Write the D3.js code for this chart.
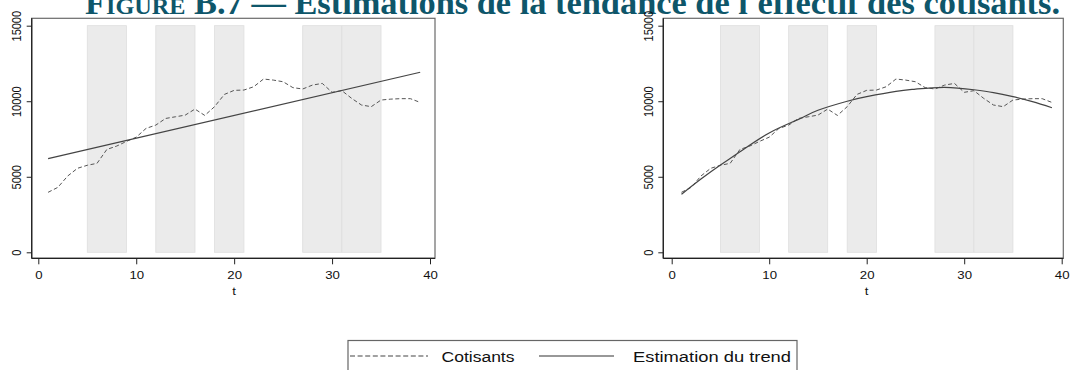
<!DOCTYPE html>
<html><head><meta charset="utf-8">
<script src="https://cdn.jsdelivr.net/npm/d3@7"></script>
<style>
html,body{margin:0;padding:0;background:#fff;}
svg{display:block;}
text{font-family:"Liberation Sans",Arial,sans-serif;}
</style></head>
<body>
<svg id="c" width="1070" height="370"></svg>
<script>
// ---- data ----
const tValues = [1,2,3,4,5,6,7,8,9,10,11,12,13,14,15,16,17,18,19,20,21,22,23,24,25,26,27,28,29,30,31,32,33,34,35,36,37,38,39];
const cotisants = [3970,4300,5050,5560,5760,5890,6810,7030,7340,7620,8200,8420,8860,8970,9080,9480,9060,9640,10450,10720,10740,10960,11470,11400,11290,10900,10810,11070,11180,10590,10700,10190,9750,9640,10080,10140,10170,10170,9920];
const linTrendT = [1, 39];
const linTrendV = [6200, 11920];
const quadTrendT = [1,3,5,7,10,13,15,18,20,23,25,28,31,33,35,37,39];
const quadTrendV = [3840,4850,5780,6650,7900,8800,9400,10000,10300,10650,10800,10920,10760,10570,10300,9970,9570];
const bandStart = [5,12,18,27,31];
const bandEnd = [9,16,21,31,35];
const xTicks = [0,10,20,30,40];
const yTicks = [0,5000,10000,15000];
const titleSmall = "Figure B.7";
const titleMain = "— Estimations de la tendance de l'effectif des cotisants.";
const xTitle = "t";
const legendLabels = ["Cotisants", "Estimation du trend"];

const svg = d3.select("#c");
const SX = 1.2; // horizontal stretch of the reference's small texts

// title (cropped at top in reference)
const title = svg.append("text").attr("x", 85).attr("y", 14)
  .attr("fill", "#0e566a").attr("font-weight", "bold")
  .style("font-family", "'Liberation Serif','DejaVu Serif',serif").style("font-size", "34px")
  .attr("textLength", 975).attr("lengthAdjust", "spacingAndGlyphs");
title.append("tspan").style("font-variant", "small-caps").text(titleSmall);
title.append("tspan").text("   " + titleMain);

function panel(frame, xRange, trendT, trendV) {
  const x = d3.scaleLinear().domain([0, 40]).range(xRange);
  const y = d3.scaleLinear().domain([0, 15000]).range([252.3, 25.7]);
  const g = svg.append("g");
  // bands
  bandStart.forEach((s, i) => {
    g.append("rect").attr("x", x(s)).attr("y", y(15000))
      .attr("width", x(bandEnd[i]) - x(s)).attr("height", y(0) - y(15000))
      .attr("fill", "#ebebeb").attr("stroke", "#dedede").attr("stroke-width", 0.8);
  });
  // frame
  g.append("rect").attr("x", frame[0]).attr("y", 18.3).attr("width", frame[1] - frame[0]).attr("height", 240)
    .attr("fill", "none").attr("stroke", "#6a6a6a").attr("stroke-width", 1.2);
  // axes
  const ya = g.append("g").attr("transform", `translate(${frame[0]},0)`)
    .call(d3.axisLeft(y).tickValues(yTicks).tickSize(5).tickPadding(0).tickFormat(d3.format("d")));
  ya.select(".domain").attr("stroke", "#222").attr("stroke-width", 1.3).attr("d", `M0,18.3V258.3`);
  ya.selectAll(".tick line").attr("stroke", "#222");
  ya.selectAll(".tick text").attr("transform", `translate(-10.5,0) scale(${SX},1) rotate(-90)`)
    .attr("x", 0).attr("y", 0).attr("dy", 0).attr("text-anchor", "middle")
    .attr("font-size", 11).attr("fill", "#111")
    .style("font-family", "'Liberation Sans',Arial,sans-serif");
  const xa = g.append("g").attr("transform", `translate(0,258.3)`)
    .call(d3.axisBottom(x).tickValues(xTicks).tickSize(6).tickPadding(0).tickFormat(d3.format("d")));
  xa.select(".domain").attr("stroke", "#222").attr("stroke-width", 1.3).attr("d", `M${frame[0]},0H${frame[1]}`);
  xa.selectAll(".tick line").attr("stroke", "#222");
  xa.selectAll(".tick text").attr("transform", `translate(0,20.2) scale(${SX},1)`)
    .attr("y", 0).attr("dy", 0).attr("font-size", 11).attr("fill", "#111")
    .style("font-family", "'Liberation Sans',Arial,sans-serif");
  g.append("text").attr("transform", `translate(${x(20)},295) scale(${SX},1)`).attr("text-anchor", "middle")
    .attr("font-size", 11).attr("fill", "#111").text(xTitle);
  // series
  const line = d3.line().x(d => x(d[0])).y(d => y(d[1]));
  g.append("path").datum(tValues.map((t, i) => [t, cotisants[i]]))
    .attr("d", line).attr("fill", "none").attr("stroke", "#555").attr("stroke-width", 1)
    .attr("stroke-dasharray", "4,2.5");
  const tline = d3.line().x(d => x(d[0])).y(d => y(d[1])).curve(d3.curveNatural);
  g.append("path").datum(trendT.map((t, i) => [t, trendV[i]]))
    .attr("d", tline).attr("fill", "none").attr("stroke", "#444").attr("stroke-width", 1.2);
}

panel([31.7, 435], [38.3, 430], linTrendT, linTrendV);
panel([663.3, 1063.3], [671.7, 1061.7], quadTrendT, quadTrendV);

// legend
const lg = svg.append("g");
lg.append("rect").attr("x", 348).attr("y", 340.5).attr("width", 449).attr("height", 40)
  .attr("fill", "#fff").attr("stroke", "#666").attr("stroke-width", 1.2);
lg.append("line").attr("x1", 350).attr("x2", 428).attr("y1", 356).attr("y2", 356)
  .attr("stroke", "#444").attr("stroke-width", 1.2).attr("stroke-dasharray", "5,2.6");
lg.append("text").attr("x", 441.5).attr("y", 361.5).attr("font-size", 15.5).attr("fill", "#111")
  .attr("textLength", 73).attr("lengthAdjust", "spacingAndGlyphs").text(legendLabels[0]);
lg.append("line").attr("x1", 539).attr("x2", 614).attr("y1", 356).attr("y2", 356)
  .attr("stroke", "#333").attr("stroke-width", 1.2);
lg.append("text").attr("x", 633).attr("y", 361.5).attr("font-size", 15.5).attr("fill", "#111")
  .attr("textLength", 158).attr("lengthAdjust", "spacingAndGlyphs").text(legendLabels[1]);
</script>
</body></html>
